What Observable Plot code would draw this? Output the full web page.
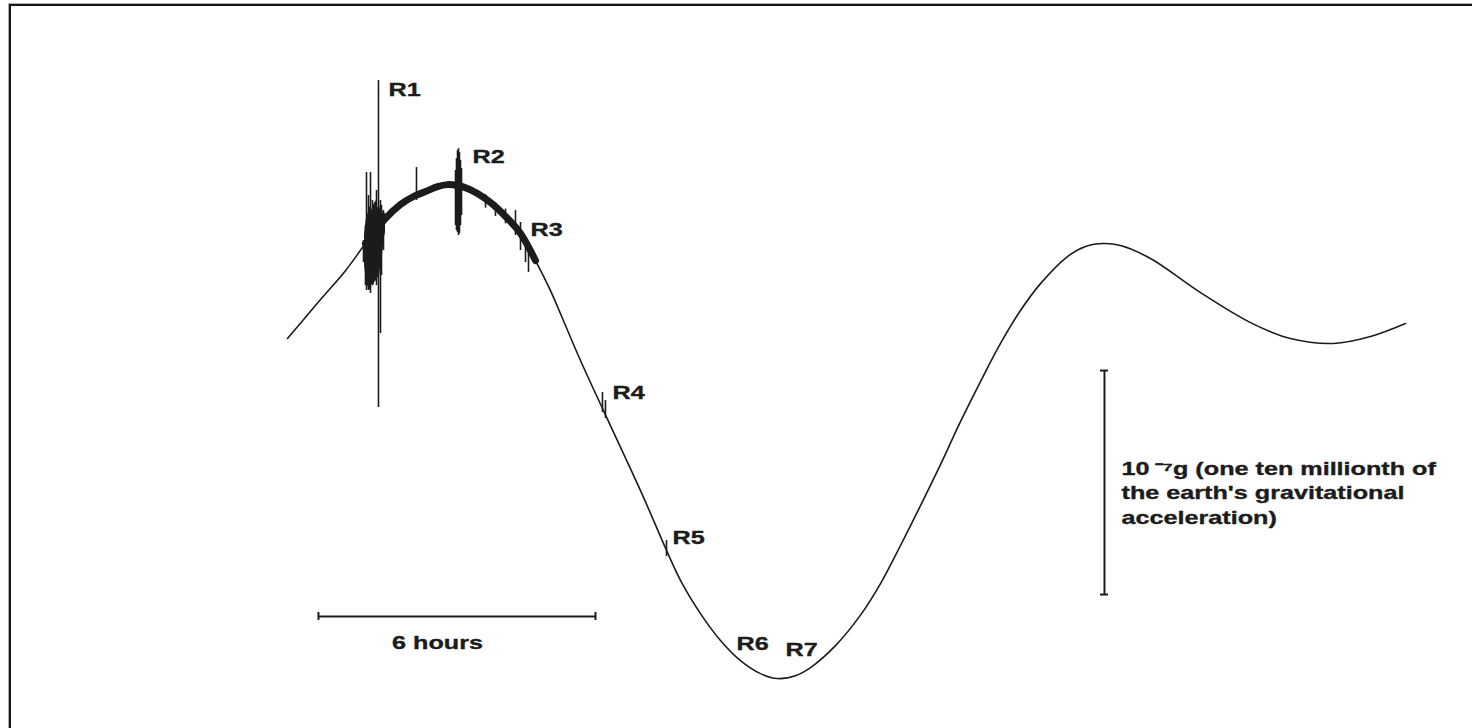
<!DOCTYPE html>
<html><head><meta charset="utf-8">
<script src="https://cdn.jsdelivr.net/npm/d3@7"></script>
<script src="https://cdn.jsdelivr.net/npm/@observablehq/plot@0.6"></script>
<style>
html,body{margin:0;padding:0;background:#fff;}
#wrap{position:relative;width:1472px;height:728px;overflow:hidden;}
#frame{position:absolute;left:9px;top:4px;width:1500px;height:800px;border-left:2px solid #151515;border-top:2px solid #151515;box-shadow:-1px -1px 0 #b0b0b0;pointer-events:none;z-index:2}
#wrap svg{position:absolute;left:0;top:0}
</style></head><body><div id="wrap"><div id="frame"></div></div>
<script>
// Gravimeter trace: time in hours from start of record, value in units of 1e-7 g
const traceHours = [0.000,0.715,1.256,1.689,2.123,2.447,2.729,2.989,3.249,3.465,3.682,3.899,4.115,4.397,4.722,5.047,5.371,5.696,6.021,6.346,6.844,7.646,8.512,8.945,9.378,9.811,10.245,10.613,11.003,11.328,11.869,12.410,12.844,13.277,13.710,14.143,14.576,15.010,15.443,15.876,16.309,16.894,17.284,17.674,18.042,18.692,19.774,20.857,21.724,22.655,23.457,24.215];
const traceValues = [1.518,1.692,1.821,1.942,2.054,2.116,2.152,2.174,2.196,2.205,2.201,2.188,2.165,2.125,2.063,1.987,1.866,1.732,1.576,1.420,1.196,0.839,0.438,0.290,0.170,0.080,0.022,0.000,0.013,0.049,0.147,0.283,0.424,0.594,0.772,0.955,1.147,1.326,1.496,1.643,1.763,1.884,1.929,1.942,1.933,1.875,1.723,1.589,1.518,1.496,1.527,1.585];

// Dense seismic burst at R1 (filled envelope of the shaking trace)
const burstHours = [1.668,1.700,1.733,1.765,1.798,1.830,1.863,1.895,1.928,1.960,1.993,2.025,2.058,2.090,2.123];
const burstLow   = [1.844,1.790,1.754,1.742,1.732,1.760,1.754,1.770,1.777,1.790,1.799,1.850,1.888,1.960,1.991];
const burstHigh  = [1.978,2.040,2.067,2.095,2.112,2.090,2.112,2.125,2.134,2.100,2.112,2.085,2.089,2.070,2.080];

// Individual excursions of the trace
const noiseHours = [1.646,1.689,1.711,1.754,1.798,1.841,1.884,1.928,1.971,2.014,2.036,2.079,2.794,3.639,3.660,3.682,3.704,3.725,3.747,3.769,4.289,4.505,4.722,4.938,5.047,5.155,5.220,6.822,6.887,8.209];
const noiseLow   = [1.857,1.754,1.732,1.732,1.719,1.754,1.799,1.754,1.210,1.540,1.799,1.911,2.134,2.022,2.000,1.991,1.978,1.987,2.022,2.067,2.100,2.063,2.030,1.978,1.911,1.857,1.813,1.188,1.161,0.545];
const noiseHigh  = [1.955,2.022,2.259,2.156,2.259,2.134,2.112,2.179,2.670,2.134,2.112,2.089,2.281,2.268,2.321,2.357,2.366,2.348,2.313,2.277,2.160,2.125,2.096,2.089,2.036,1.964,1.933,1.277,1.241,0.616];

// Event labels
const labelNames  = ["R1","R2","R3","R4","R5","R6","R7"];
const labelHours  = [2.187,4.007,5.263,7.039,8.339,9.725,10.786];
const labelValues = [2.625,2.326,2.000,1.272,0.625,0.152,0.125];

// Scale bars
const timeBarStart = 0.671, timeBarHours = 6, timeBarLevel = 0.277;
const timeBarLabel = "6 hours", timeLabelHour = 3.25, timeLabelValue = 0.156;
const gBarHour = 17.695, gBarBottom = 0.375, gBarLength = 1;
const gBarLabel = "10\u2009\u207B\u2077g (one ten millionth of\nthe earth's gravitational\nacceleration)";
const gLabelHour = 18.064, gLabelValue = 0.835;

const trace = traceHours.map((h, i) => ({h, v: traceValues[i]}));
const burst = burstHours.map((h, i) => ({h, lo: burstLow[i], hi: burstHigh[i]}));
const noise = noiseHours.map((h, i) => ({h, lo: noiseLow[i], hi: noiseHigh[i]}));
const labels = labelNames.map((name, i) => ({name, h: labelHours[i], v: labelValues[i]}));
const noisy = trace.filter(d => d.h > 1.6 && d.h < 5.45);

const capH = 0.087, capV = 0.018;
const ink = "#1c1c1c";
const font = "'Liberation Sans', Arial, sans-serif";
const textStyle = {fontSize: 18, fontWeight: "bold", fill: ink, stroke: ink, strokeWidth: 0.35};

const chart = Plot.plot({
  width: 1472, height: 728, margin: 0,
  x: {domain: [-6.216, 25.666], axis: null},
  y: {domain: [-0.223, 3.027], axis: null},
  style: {background: "transparent", fontFamily: font},
  marks: [
    Plot.line(trace, {x: "h", y: "v", curve: "catmull-rom", stroke: ink, strokeWidth: 1.6}),
    Plot.line(noisy, {x: "h", y: "v", curve: "catmull-rom", stroke: ink, strokeWidth: 7}),
    Plot.areaY(burst, {x: "h", y1: "lo", y2: "hi", fill: ink}),
    Plot.ruleX(noise, {x: "h", y1: "lo", y2: "hi", stroke: ink, strokeWidth: 1.6}),
    Plot.text(labels, {x: "h", y: "v", text: "name", textAnchor: "start", lineAnchor: "middle", ...textStyle}),
    // time scale bar
    Plot.ruleY([timeBarLevel], {x1: timeBarStart, x2: timeBarStart + timeBarHours, stroke: ink, strokeWidth: 2}),
    Plot.ruleX([timeBarStart, timeBarStart + timeBarHours], {x: d => d, y1: timeBarLevel - capV, y2: timeBarLevel + capV, stroke: ink, strokeWidth: 2}),
    Plot.text([timeBarLabel], {x: timeLabelHour, y: timeLabelValue, text: d => d, lineAnchor: "middle", ...textStyle}),
    // gravity scale bar
    Plot.ruleX([gBarHour], {y1: gBarBottom, y2: gBarBottom + gBarLength, stroke: ink, strokeWidth: 2}),
    Plot.ruleY([gBarBottom, gBarBottom + gBarLength], {y: d => d, x1: gBarHour - capH, x2: gBarHour + capH, stroke: ink, strokeWidth: 2}),
    Plot.text([gBarLabel], {x: gLabelHour, y: gLabelValue, text: d => d, textAnchor: "start", lineAnchor: "middle", lineHeight: 1.36, ...textStyle})
  ]
});

// the scanned figure is horizontally stretched; widen the lettering to match
d3.select(chart).selectAll("text").each(function() {
  const t = this.getAttribute("transform");
  if (t && t.includes("translate")) {
    this.setAttribute("transform", t + " scale(1.4,1)");
  } else {
    const x = +this.getAttribute("x") || 0, y = +this.getAttribute("y") || 0;
    this.removeAttribute("x"); this.removeAttribute("y");
    this.setAttribute("transform", `translate(${x},${y}) scale(1.4,1)`);
  }
});

document.getElementById("wrap").appendChild(chart);
</script></body></html>
